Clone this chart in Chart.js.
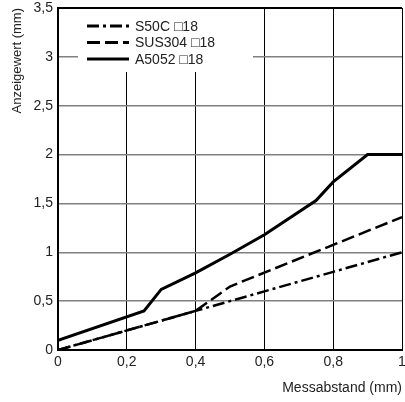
<!DOCTYPE html>
<html>
<head>
<meta charset="utf-8">
<script src="https://cdn.jsdelivr.net/npm/chart.js@4.4.0/dist/chart.umd.min.js"></script>
<style>
  html, body { margin: 0; padding: 0; background: #fff; }
  #wrap { width: 405px; height: 402px; }
</style>
</head>
<body>
<div id="wrap"><canvas id="chart" width="405" height="402"></canvas></div>
<script>
const seriesNames = ['S50C \u25A118', 'SUS304 \u25A118', 'A5052 \u25A118'];

const xS50C = [0, 0.4, 0.6, 0.8, 1.0];
const yS50C = [0, 0.4, 0.6, 0.8, 1.0];

const xSUS304 = [0, 0.4, 0.5, 1.0];
const ySUS304 = [0, 0.4, 0.65, 1.36];

const xA5052 = [0, 0.25, 0.3, 0.4, 0.5, 0.6, 0.75, 0.8, 0.9, 1.0];
const yA5052 = [0.1, 0.4, 0.62, 0.79, 0.98, 1.18, 1.53, 1.72, 2.0, 2.0];

const xTickLabels = ['0', '0,2', '0,4', '0,6', '0,8', '1'];
const yTickLabels = ['0', '0,5', '1', '1,5', '2', '2,5', '3', '3,5'];

const FONT = 'Liberation Sans, Arial, Helvetica, sans-serif';

function toPoints(xs, ys) {
    return xs.map((x, i) => ({ x: x, y: ys[i] }));
}

// Legende mit weissem Hintergrund oben links im Diagramm
const legendPlugin = {
    id: 'boxLegend',
    afterDatasetsDraw(chart) {
        const ctx = chart.ctx;
        const area = chart.chartArea;
        ctx.save();
        ctx.fillStyle = '#fff';
        ctx.fillRect(area.left + 20, area.top + 1, 175, 63);
        chart.data.datasets.forEach((ds, i) => {
            const y = area.top + 18 + i * 16.5;
            ctx.beginPath();
            ctx.setLineDash(ds.borderDash || []);
            ctx.lineWidth = 3;
            ctx.strokeStyle = '#000';
            ctx.moveTo(area.left + 29, y);
            ctx.lineTo(area.left + 71, y);
            ctx.stroke();
            ctx.setLineDash([]);
            ctx.fillStyle = '#222';
            ctx.font = '14px ' + FONT;
            ctx.textBaseline = 'middle';
            ctx.textAlign = 'left';
            ctx.fillText(ds.label, area.left + 77, y + 1);
        });
        ctx.restore();
    }
};

const ctx = document.getElementById('chart').getContext('2d');
new Chart(ctx, {
    type: 'line',
    data: {
        datasets: [{
            label: seriesNames[0],
            data: toPoints(xS50C, yS50C),
            borderColor: '#000',
            borderWidth: 2.5,
            borderDash: [12, 4, 3, 4]
        }, {
            label: seriesNames[1],
            data: toPoints(xSUS304, ySUS304),
            borderColor: '#000',
            borderWidth: 2.5,
            borderDash: [13, 5]
        }, {
            label: seriesNames[2],
            data: toPoints(xA5052, yA5052),
            borderColor: '#000',
            borderWidth: 3
        }]
    },
    options: {
        responsive: false,
        animation: false,
        events: [],
        elements: { point: { radius: 0 }, line: { tension: 0 } },
        layout: { padding: { top: 8, right: 3, left: 0, bottom: 0 } },
        plugins: {
            legend: { display: false },
            tooltip: { enabled: false }
        },
        scales: {
            x: {
                type: 'linear',
                min: 0,
                max: 1,
                afterFit: function(scale) {
                    scale.height = 52;
                    scale.paddingLeft = 0;
                    scale.paddingRight = 0;
                },
                afterBuildTicks: function(scale) {
                    scale.ticks = xTickLabels.map((t, i) => ({ value: i * 0.2 }));
                },
                ticks: {
                    padding: 4,
                    color: '#222',
                    font: { family: FONT, size: 14 },
                    maxRotation: 0,
                    autoSkip: false,
                    callback: function(value, index) { return xTickLabels[index]; }
                },
                grid: {
                    drawTicks: false,
                    color: '#000',
                    lineWidth: 1
                },
                border: { color: '#000', width: 2 },
                title: {
                    display: true,
                    text: 'Messabstand (mm)',
                    align: 'end',
                    color: '#222',
                    font: { family: FONT, size: 14 },
                    padding: { top: 0, bottom: 5 }
                }
            },
            y: {
                type: 'linear',
                min: 0,
                max: 3.5,
                afterFit: function(scale) {
                    scale.width = 58;
                    scale.paddingTop = 0;
                    scale.paddingBottom = 0;
                },
                afterBuildTicks: function(scale) {
                    scale.ticks = yTickLabels.map((t, i) => ({ value: i * 0.5 }));
                },
                ticks: {
                    padding: 5,
                    color: '#222',
                    font: { family: FONT, size: 14 },
                    autoSkip: false,
                    callback: function(value, index) { return yTickLabels[index]; }
                },
                grid: {
                    drawTicks: false,
                    color: function(c) {
                        const v = c.tick ? c.tick.value : 0;
                        return (v === 0 || v === 3.5) ? '#000' : '#808080';
                    },
                    lineWidth: function(c) {
                        const v = c.tick ? c.tick.value : 0;
                        return (v === 0 || v === 3.5) ? 2 : 1.5;
                    }
                },
                border: { color: '#000', width: 2 },
                title: {
                    display: true,
                    text: 'Anzeigewert (mm)',
                    align: 'end',
                    color: '#222',
                    font: { family: FONT, size: 13 },
                    padding: { top: 10, bottom: 0 }
                }
            }
        }
    },
    plugins: [legendPlugin]
});
</script>
</body>
</html>
